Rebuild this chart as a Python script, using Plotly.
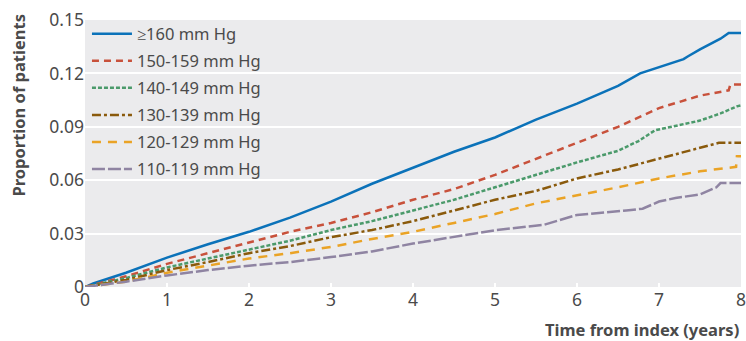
import plotly.graph_objects as go

series_names = ["≥160 mm Hg", "150-159 mm Hg", "140-149 mm Hg",
                "130-139 mm Hg", "120-129 mm Hg", "110-119 mm Hg"]

t_160 = [0, 0.1, 0.5, 1, 1.5, 2, 2.5, 3, 3.5, 4, 4.5, 5, 5.5, 6, 6.5, 6.77, 7.0, 7.3, 7.35, 7.5, 7.75, 7.8, 7.85, 8]
v_160 = [0, 0.002, 0.008, 0.0165, 0.024, 0.031, 0.039, 0.048, 0.058, 0.067, 0.076, 0.084, 0.094, 0.103, 0.113, 0.120, 0.1235, 0.128, 0.1295, 0.1335, 0.1395, 0.141, 0.1427, 0.1427]

t_150 = [0, 0.5, 1, 1.5, 2, 2.5, 3, 3.5, 4, 4.5, 5, 5.5, 6, 6.5, 7, 7.5, 7.85, 7.87, 8]
v_150 = [0, 0.006, 0.013, 0.019, 0.025, 0.031, 0.036, 0.042, 0.049, 0.055, 0.063, 0.072, 0.081, 0.090, 0.1005, 0.1075, 0.1105, 0.1137, 0.1137]

t_140 = [0, 0.5, 1, 1.5, 2, 2.5, 3, 3.5, 4, 4.5, 5, 5.5, 6, 6.5, 6.75, 6.95, 7.25, 7.5, 7.75, 7.95, 8]
v_140 = [0, 0.005, 0.011, 0.016, 0.021, 0.026, 0.032, 0.037, 0.043, 0.049, 0.056, 0.063, 0.070, 0.0765, 0.082, 0.088, 0.091, 0.0935, 0.0975, 0.1015, 0.102]

t_130 = [0, 0.5, 1, 1.5, 2, 2.5, 3, 3.5, 4, 4.5, 5, 5.5, 6, 6.5, 7, 7.5, 7.73, 8]
v_130 = [0, 0.004, 0.0095, 0.014, 0.019, 0.023, 0.028, 0.032, 0.037, 0.043, 0.049, 0.054, 0.061, 0.066, 0.072, 0.078, 0.081, 0.081]

t_120 = [0, 0.5, 1, 1.5, 2, 2.5, 3, 3.5, 4, 4.5, 5, 5.5, 6, 6.5, 7, 7.5, 7.94, 7.95, 8]
v_120 = [0, 0.003, 0.008, 0.012, 0.016, 0.019, 0.0225, 0.027, 0.031, 0.036, 0.041, 0.047, 0.0515, 0.056, 0.061, 0.065, 0.0675, 0.0734, 0.0734]

t_110 = [0, 0.5, 1, 1.5, 2, 2.5, 3, 3.5, 4, 4.5, 5, 5.6, 6, 6.6, 6.8, 7.0, 7.2, 7.5, 7.7, 7.75, 8]
v_110 = [0, 0.003, 0.0065, 0.0095, 0.012, 0.014, 0.0168, 0.020, 0.0244, 0.028, 0.0319, 0.035, 0.0405, 0.043, 0.044, 0.048, 0.050, 0.052, 0.056, 0.0584, 0.0584]

x_ticks = [0, 1, 2, 3, 4, 5, 6, 7, 8]
y_ticks = [0, 0.03, 0.06, 0.09, 0.12, 0.15]
y_tick_labels = ["0", "0.03", "0.06", "0.09", "0.12", "0.15"]

all_t = [t_160, t_150, t_140, t_130, t_120, t_110]
all_v = [v_160, v_150, v_140, v_130, v_120, v_110]
colors = ["#0b72b9", "#c8513b", "#4b9a6b", "#8a5a0c", "#eaa326", "#8f84a2"]
dashes = ["solid", "7px,5px", "4px,2px", "9px,3px,3px,3px", "9px,7px", "13px,3px"]

TXT = "#4a4a4a"
FONT = "Noto Sans"

fig = go.Figure()
for name, t, v, c, d in zip(series_names, all_t, all_v, colors, dashes):
    fig.add_trace(go.Scatter(x=t, y=v, name=name, mode="lines", legendgroup=name,
                             line=dict(color=c, width=2.5, dash=d)))

fig.update_layout(
    width=746, height=341,
    margin=dict(l=85, r=5, t=20, b=54, autoexpand=False),
    paper_bgcolor="white",
    plot_bgcolor="#ebebed",
    font=dict(family=FONT, color=TXT, size=16),
    legend=dict(x=0.003, y=1.013, xanchor="left", yanchor="top",
                bgcolor="rgba(0,0,0,0)", font=dict(size=16.5, color=TXT),
                tracegroupgap=2.6, itemwidth=40),
    xaxis=dict(range=[0, 8], tickvals=x_ticks, showgrid=False, zeroline=False,
               ticks="inside", ticklen=4, tickcolor="white", tickwidth=1.5,
               tickfont=dict(size=17.5, color=TXT), showline=False,
               ticklabeloverflow="allow", automargin=False),
    yaxis=dict(range=[0, 0.15], tickvals=y_ticks, ticktext=y_tick_labels,
               showgrid=True, gridcolor="white", gridwidth=2, zeroline=False,
               ticks="", tickfont=dict(size=17.5, color=TXT), showline=False,
               automargin=False),
    annotations=[
        dict(text="<b>Time from index (years)</b>", xref="paper", yref="paper",
             x=1.0, y=-0.161, xanchor="right", yanchor="middle", showarrow=False,
             font=dict(size=16.5, color=TXT)),
        dict(text="<b>Proportion of patients</b>", xref="paper", yref="paper",
             x=-0.102, y=1.03, xanchor="center", yanchor="top", textangle=-90,
             showarrow=False, font=dict(size=16.5, color=TXT)),
    ],
)

fig.write_html("out.html", config={"displayModeBar": False},
               post_script="document.body.style.margin='0';")
